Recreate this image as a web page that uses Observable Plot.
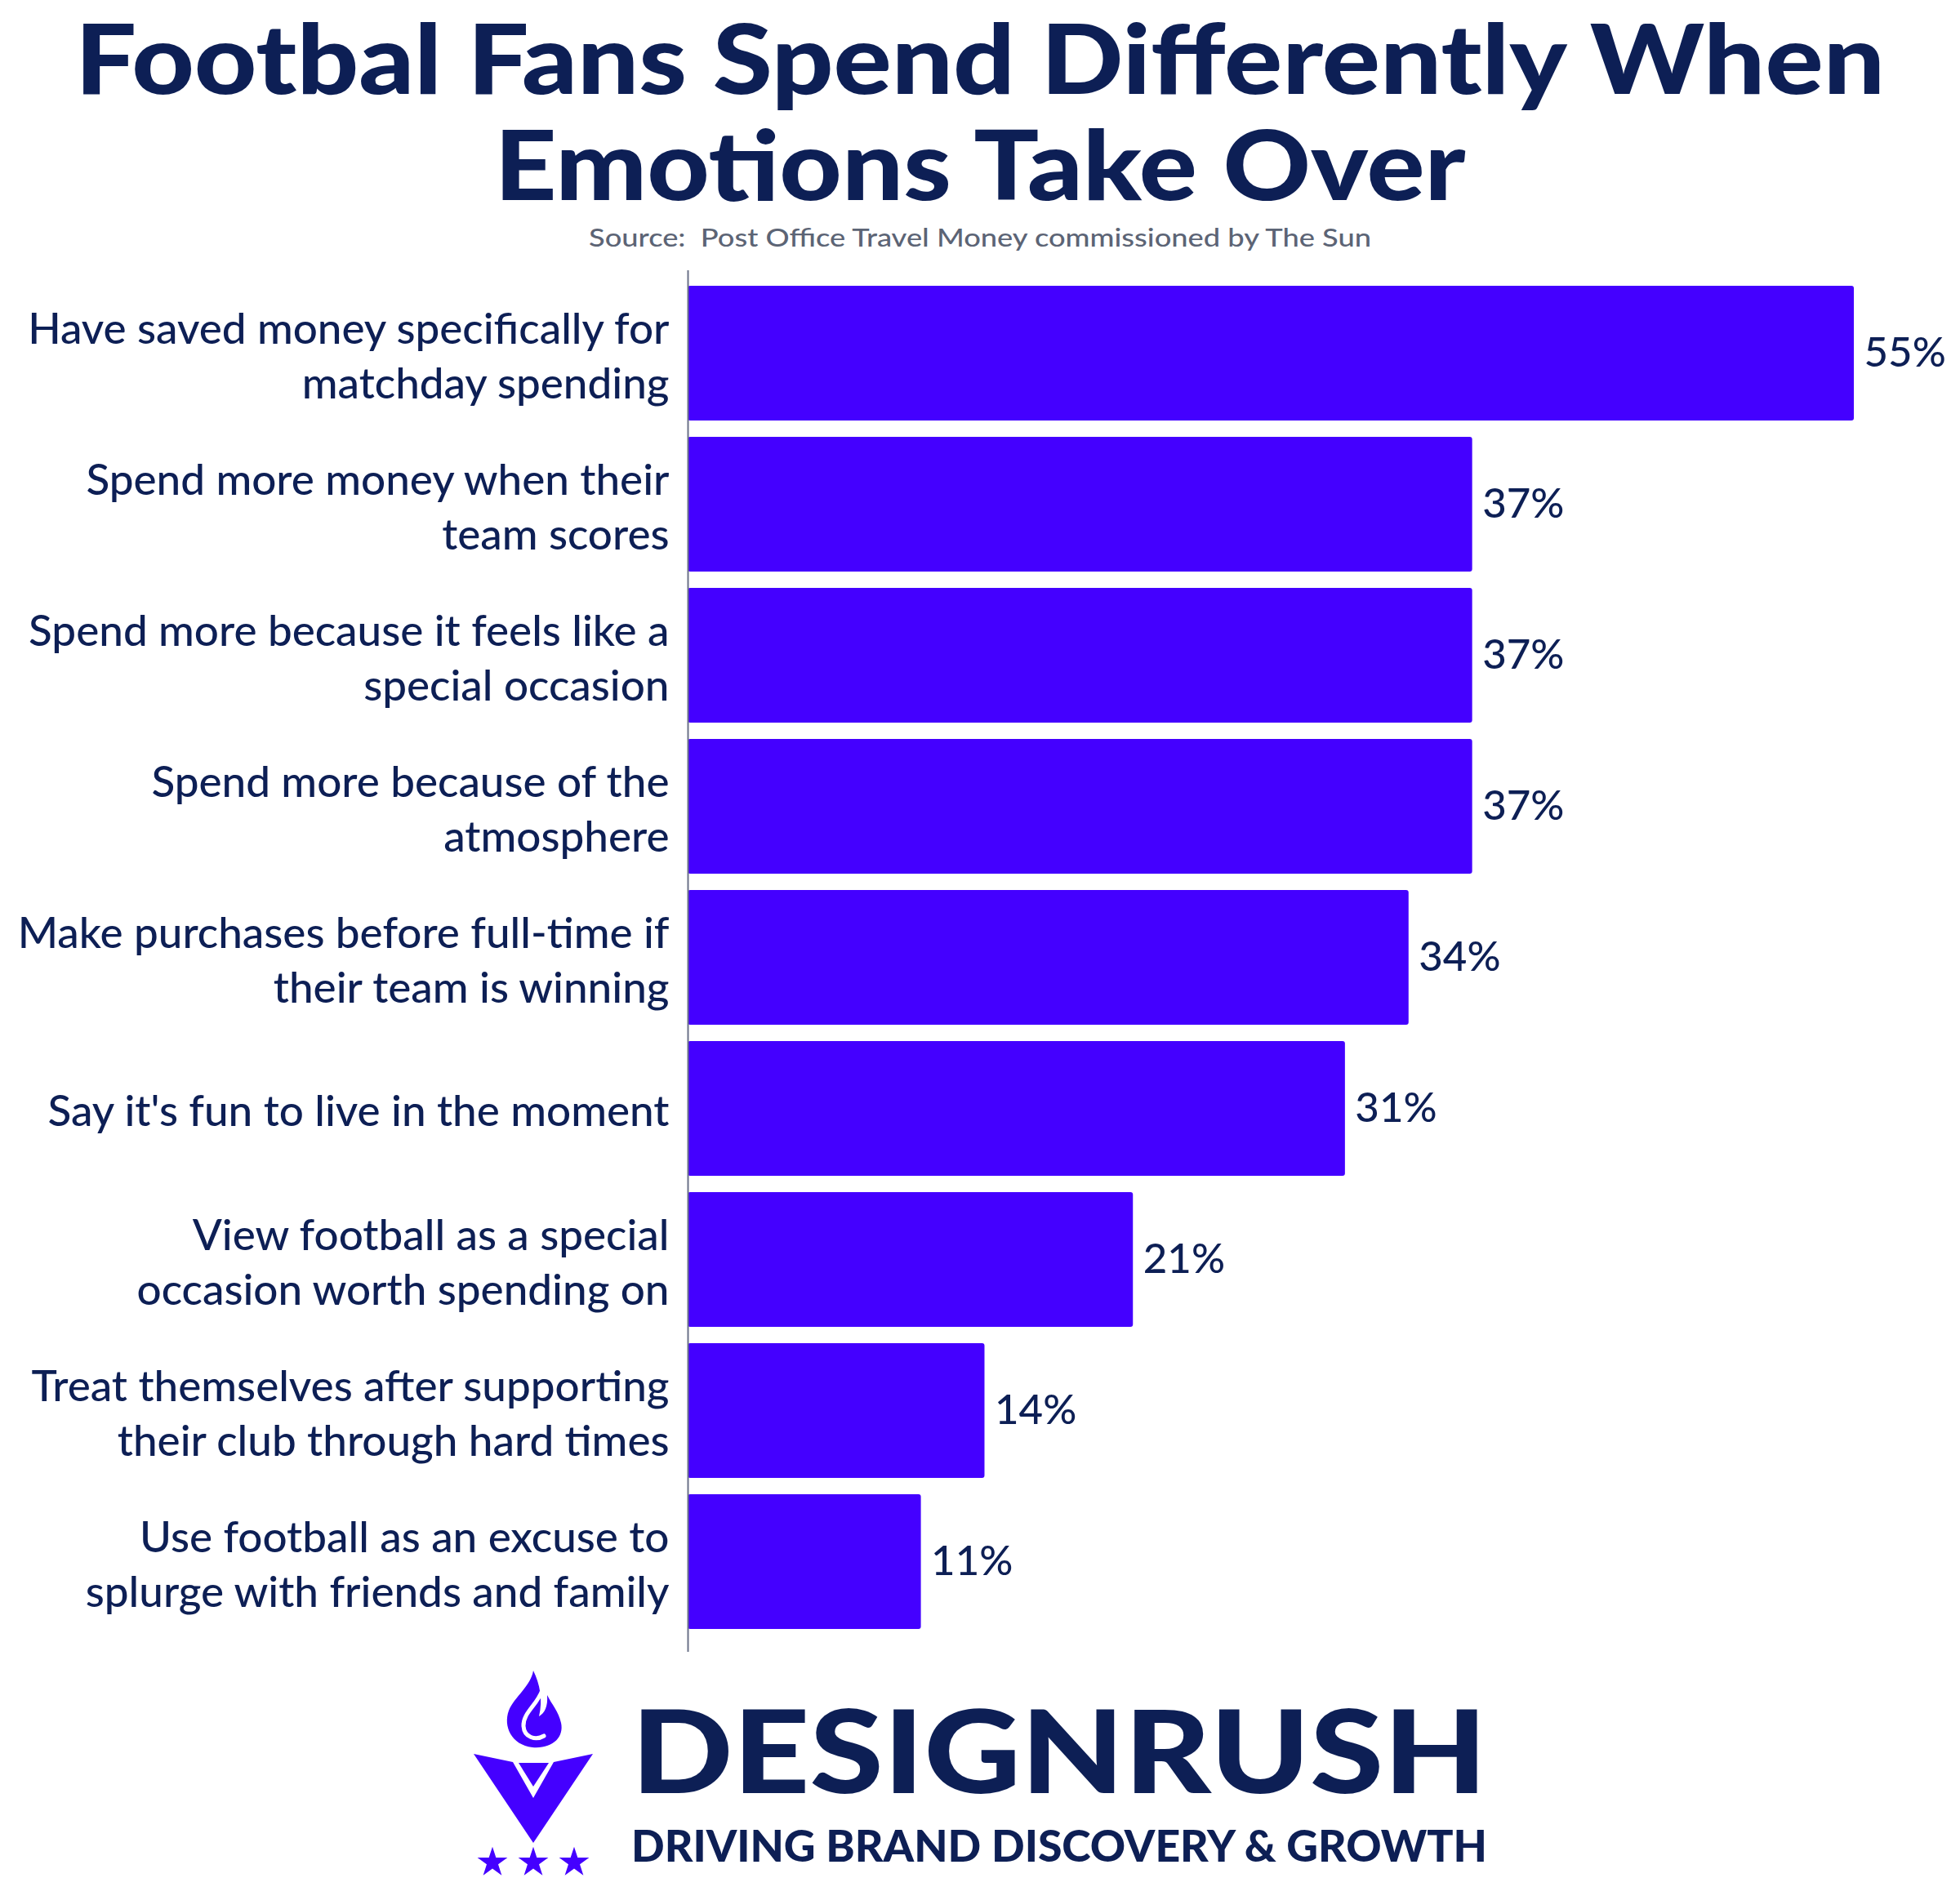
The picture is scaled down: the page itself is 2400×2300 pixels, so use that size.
<!DOCTYPE html>
<html>
<head>
<meta charset="utf-8">
<script src="https://cdn.jsdelivr.net/npm/d3@7"></script>
<script src="https://cdn.jsdelivr.net/npm/@observablehq/plot@0.6"></script>
<style>
  html, body { margin: 0; padding: 0; background: #ffffff; }
  #page { position: relative; width: 2400px; height: 2300px; background: #ffffff; overflow: hidden; }
  #header, #footer { position: absolute; left: 0; }
  #header { top: 0; }
  #chart { position: absolute; left: 0; top: 331px; }
  #footer { top: 2030px; }
</style>
</head>
<body>
<div id="page">
  <svg id="header" width="2400" height="331"></svg>
  <div id="chart"></div>
  <svg id="footer" width="2400" height="270"></svg>
</div>
<script>
// ---- data ----
const titleLines = ["Footbal Fans Spend Differently When", "Emotions Take Over"];
const sourceText = "Source:  Post Office Travel Money commissioned by The Sun";
const categories = [
  "Have saved money specifically for\nmatchday spending",
  "Spend more money when their\nteam scores",
  "Spend more because it feels like a\nspecial occasion",
  "Spend more because of the\natmosphere",
  "Make purchases before full-time if\ntheir team is winning",
  "Say it's fun to live in the moment",
  "View football as a special\noccasion worth spending on",
  "Treat themselves after supporting\ntheir club through hard times",
  "Use football as an excuse to\nsplurge with friends and family"
];
const values = [55, 37, 37, 37, 34, 31, 21, 14, 11];
const brandName = "DESIGNRUSH";
const brandTagline = "DRIVING BRAND DISCOVERY & GROWTH";

const data = categories.map((c, i) => ({category: c, value: values[i]}));

const NAVY = "#0d1f55";
const BAR = "#4400ff";

// ---- header ----
const header = d3.select("#header");
header.append("text")
  .attr("x", 1200).attr("y", 115)
  .attr("text-anchor", "middle")
  .attr("font-family", "Lato").attr("font-weight", 900).attr("font-size", 118)
  .attr("fill", NAVY)
  .attr("textLength", 2216).attr("lengthAdjust", "spacingAndGlyphs")
  .text(titleLines[0]);
header.append("text")
  .attr("x", 1200).attr("y", 245)
  .attr("text-anchor", "middle")
  .attr("font-family", "Lato").attr("font-weight", 900).attr("font-size", 118)
  .attr("fill", NAVY)
  .attr("textLength", 1189).attr("lengthAdjust", "spacingAndGlyphs")
  .text(titleLines[1]);
header.append("text")
  .attr("x", 1200).attr("y", 302)
  .attr("text-anchor", "middle")
  .attr("font-family", "Lato").attr("font-weight", 500).attr("font-size", 31)
  .attr("fill", "#5c6475")
  .attr("textLength", 958).attr("lengthAdjust", "spacingAndGlyphs")
  .attr("xml:space", "preserve")
  .text(sourceText);

// ---- chart ----
const chart = Plot.plot({
  width: 2400,
  height: 1692,
  marginLeft: 842,
  marginRight: 0,
  marginTop: 0,
  marginBottom: 0,
  x: {domain: [0, 55], range: [842, 2270], axis: null},
  y: {domain: categories, range: [8, 1675], paddingInner: 0.108, paddingOuter: 0.054, label: null},
  style: {fontFamily: "Lato", background: "transparent", overflow: "visible"},
  marks: [
    Plot.barX(data, {x: "value", y: "category", fill: BAR, rx: 3}),
    Plot.ruleX([0], {stroke: "#6b7288", strokeWidth: 2}),
    Plot.axisY({tickSize: 0, tickPadding: 23, fontSize: 53, fontWeight: 500, lineHeight: 1.26, fill: NAVY, label: null}),
    Plot.text(data, {
      x: "value", y: "category",
      text: d => `${d.value}%`,
      dx: 12, textAnchor: "start",
      fontSize: 51, fontWeight: 500, fill: NAVY
    })
  ]
});
document.getElementById("chart").appendChild(chart);

// ---- footer logo ----
const footer = d3.select("#footer");
const icon = footer.append("g").attr("transform", "translate(560,10)");
// flame
icon.append("path")
  .attr("d", "M93,6 C90,25 70,38 63,55 C56,74 66,97 92,100 C116,102 131,88 127,70 C124,56 116,48 110,36 C111,50 107,58 100,62 C105,42 101,22 93,6 Z")
  .attr("fill", BAR);
icon.append("path")
  .attr("d", "M104,30 C98,48 80,58 81,74 C82,88 96,92 106,86")
  .attr("fill", "none").attr("stroke", "#ffffff").attr("stroke-width", 5).attr("stroke-linecap", "round");
// V
icon.append("path")
  .attr("d", "M20,108 L68,118 L93,162 L118,118 L166,108 L93,217 Z")
  .attr("fill", BAR);
icon.append("path")
  .attr("d", "M75,119 L112,119 L93,148 Z")
  .attr("fill", BAR);
// stars
const star = d3.symbol(d3.symbolStar, 420);
[43, 93, 143].forEach(cx => {
  icon.append("path").attr("d", star()).attr("transform", `translate(${cx},241)`).attr("fill", BAR);
});
footer.append("text")
  .attr("x", 773).attr("y", 166)
  .attr("font-family", "Lato").attr("font-weight", 900).attr("font-size", 141)
  .attr("fill", NAVY)
  .attr("textLength", 1048).attr("lengthAdjust", "spacingAndGlyphs")
  .text(brandName);
footer.append("text")
  .attr("x", 773).attr("y", 250)
  .attr("font-family", "Lato").attr("font-weight", 900).attr("font-size", 53)
  .attr("fill", NAVY)
  .attr("textLength", 1048).attr("lengthAdjust", "spacingAndGlyphs")
  .text(brandTagline);
</script>
</body>
</html>
